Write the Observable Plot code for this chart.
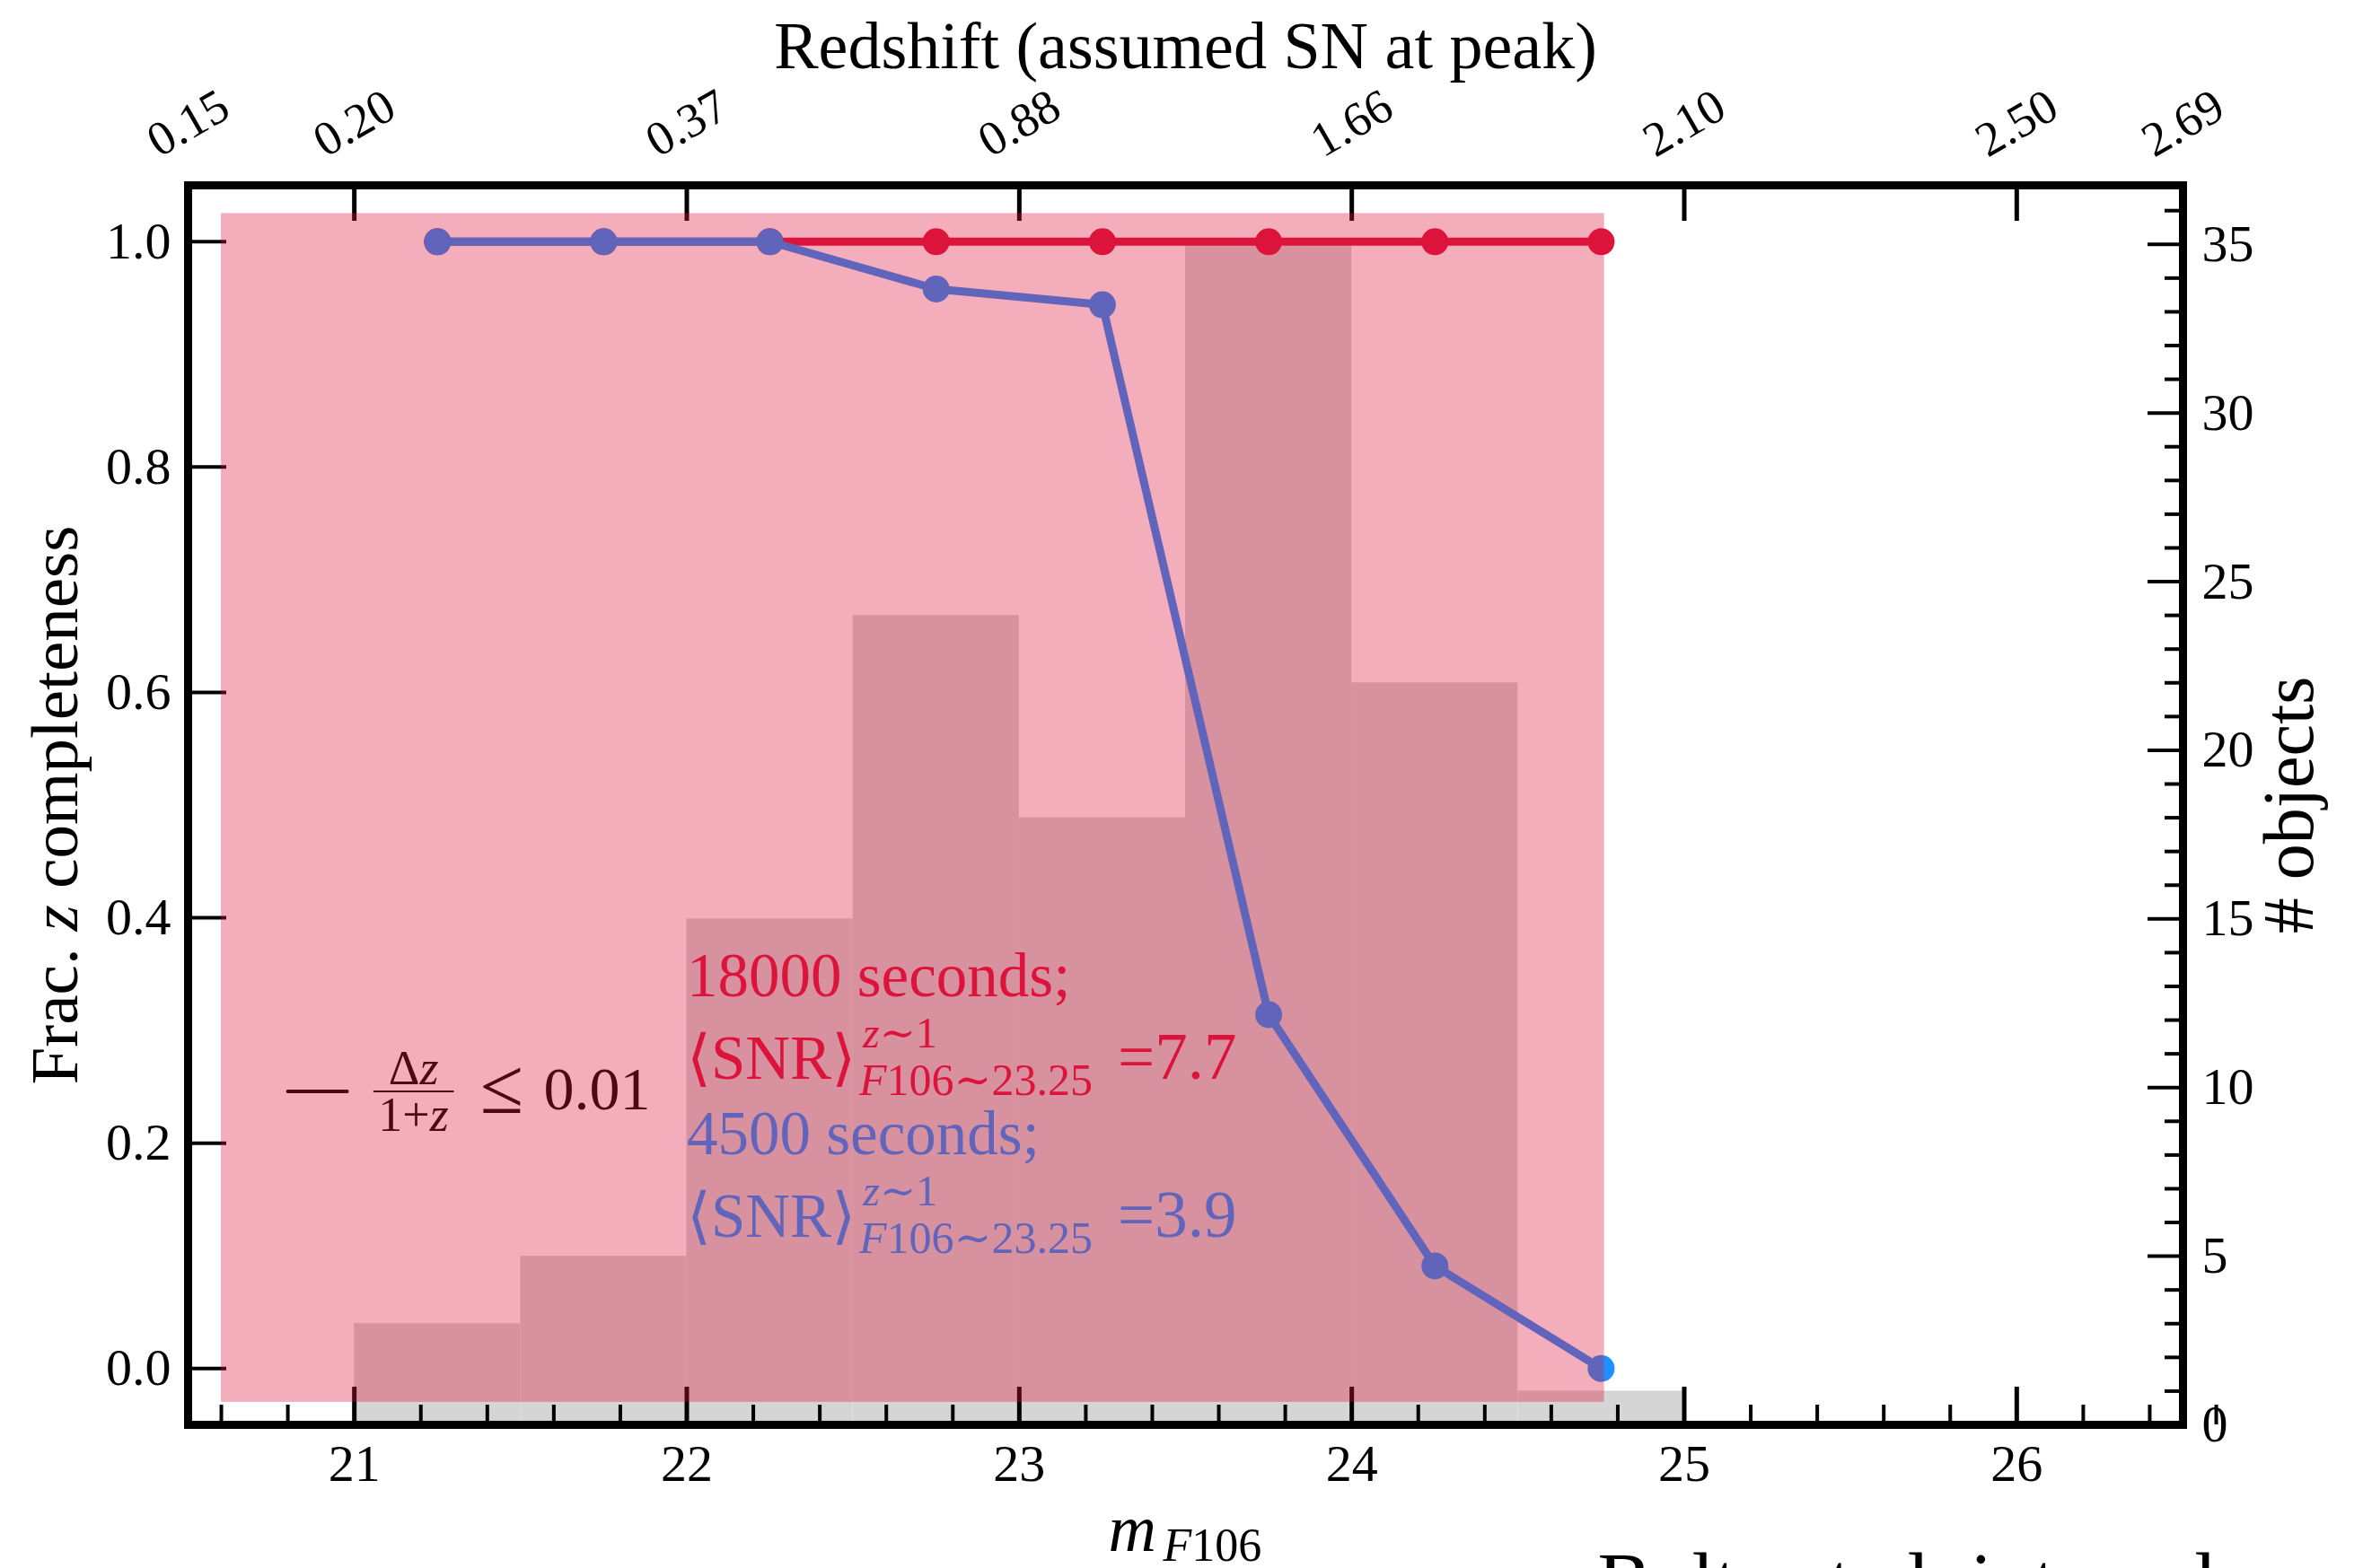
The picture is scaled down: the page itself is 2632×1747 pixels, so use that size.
<!DOCTYPE html>
<html><head><meta charset="utf-8">
<script src="https://cdn.jsdelivr.net/npm/d3@7"></script>
<script src="https://cdn.jsdelivr.net/npm/@observablehq/plot@0.6"></script>
<style>html,body{margin:0;padding:0;background:#fff;overflow:hidden}svg{display:block}</style>
</head><body><div id="chart"></div>
<script>
// ---------- data ----------
const magCenters = [21.25, 21.75, 22.25, 22.75, 23.25, 23.75, 24.25, 24.75];
const frac18000  = [1, 1, 1, 1, 1, 1, 1, 1];
const frac4500   = [1, 1, 1, 0.958, 0.944, 0.314, 0.091, 0];
const binEdges   = [21, 21.5, 22, 22.5, 23, 23.5, 24, 24.5, 25];
const binCounts  = [3, 5, 15, 24, 18, 35, 22, 1];
const magTicks   = [21, 22, 23, 24, 25, 26];
const fracTicks  = [0, 0.2, 0.4, 0.6, 0.8, 1.0];
const countTicks = [0, 5, 10, 15, 20, 25, 30, 35];
const redshiftTickPos    = [20.5, 21, 22, 23, 24, 25, 26, 26.5];
const redshiftTickLabels = ["0.15", "0.20", "0.37", "0.88", "1.66", "2.10", "2.50", "2.69"];
const exposureLabels = ["18000 seconds;", "4500 seconds;"];
const snrValues      = ["=7.7", "=3.9"];
const shadeBox = [{x1: 20.6, x2: 24.76, y1: -0.03, y2: 1.025}];

// ---------- scales / layout ----------
const magDomain = [20.5, 26.5];
const fracDomain = [-0.05, 1.05];
const countDomain = [0, 36.75];
const c2y = c => fracDomain[0] + (c - countDomain[0]) / (countDomain[1] - countDomain[0]) * (fracDomain[1] - fracDomain[0]);

const W = 2632, H = 1747;
const M = {left: 209, right: 201, top: 206, bottom: 160};
const innerW = W - M.left - M.right, innerH = H - M.top - M.bottom;
const FONT = "'Liberation Serif', 'DejaVu Serif', serif";
const RED = "crimson", BLUE = "dodgerblue";

const layout = {annotX: 22.0, expY: [0.33, 0.19], snrY: [0.257, 0.117], legend: {x: 20.8, y: 0.246}};

const redData  = magCenters.map((m, i) => ({m, f: frac18000[i]}));
const blueData = magCenters.map((m, i) => ({m, f: frac4500[i]}));
const bins = binCounts.map((c, i) => ({x1: binEdges[i], x2: binEdges[i + 1], count: c}));
const minorMag = d3.range(Math.round(magDomain[0] * 5), Math.round(magDomain[1] * 5) + 1).map(k => k / 5).filter(v => Math.abs(v - Math.round(v)) > 1e-9);
const minorCount = d3.range(0, 37).filter(c => c % 5 !== 0);

const lineShape = {draw(ctx, l) { ctx.moveTo(0, 0); ctx.lineTo(0, -l); }};

function txt(str, x, y, opts) {
  return Plot.text([str], {x: () => x, y: () => y, text: d => d, lineAnchor: "bottom", textAnchor: "start", fontFamily: FONT, ...opts});
}
function ftxt(str, opts) {
  return Plot.text([str], {text: d => d, fontFamily: FONT, ...opts});
}

const annotMarks = [];
[0, 1].forEach(i => {
  const color = i === 0 ? RED : BLUE;
  annotMarks.push(txt(exposureLabels[i], layout.annotX, layout.expY[i], {fill: color, fontSize: 69}));
  annotMarks.push(txt("⟨SNR⟩", layout.annotX, layout.snrY[i], {fill: color, fontSize: 69}));
  annotMarks.push(txt("z∼1", layout.annotX, layout.snrY[i], {fill: color, fontSize: 48, dx: 196, dy: -35}));
  annotMarks.push(txt("F106∼23.25", layout.annotX, layout.snrY[i], {fill: color, fontSize: 50, dx: 192, dy: 18}));
  annotMarks.push(txt(snrValues[i], layout.annotX, layout.snrY[i], {fill: color, fontSize: 73, dx: 480}));
});

const L = layout.legend;
const legendMarks = [
  Plot.vector([L], {x: "x", y: "y", length: 66, rotate: 90, anchor: "start", shape: lineShape, stroke: "black", strokeWidth: 4}),
  Plot.vector([L], {x: "x", y: "y", length: 88, rotate: 90, anchor: "start", shape: lineShape, stroke: "black", strokeWidth: 2, dx: 96}),
  txt("Δz", L.x, L.y, {textAnchor: "middle", fontSize: 54, dx: 140, dy: -8}),
  txt("1+z", L.x, L.y, {textAnchor: "middle", fontSize: 54, dx: 140, dy: 44}),
  txt("≤", L.x, L.y, {textAnchor: "middle", fontSize: 88, dx: 238, dy: 24}),
  txt("0.01", L.x, L.y, {fontSize: 68, dx: 285, dy: 20})
];

const chart = Plot.plot({
  width: W, height: H,
  marginLeft: M.left, marginRight: M.right, marginTop: M.top, marginBottom: M.bottom,
  style: {fontFamily: FONT, background: "white"},
  x: {domain: magDomain},
  y: {domain: fracDomain},
  marks: [
    // histogram (# objects, right axis)
    Plot.rect(bins, {x1: "x1", x2: "x2", y1: () => c2y(0), y2: d => c2y(d.count), fill: "#d5d5d5"}),
    // ticks (inward)
    Plot.tickX(magTicks, {x: d => d, insetTop: innerH - 42, stroke: "black", strokeWidth: 5}),
    Plot.tickX(minorMag, {x: d => d, insetTop: innerH - 22, stroke: "black", strokeWidth: 4}),
    Plot.tickX(magTicks, {x: d => d, insetBottom: innerH - 40, stroke: "black", strokeWidth: 5}),
    Plot.tickY(fracTicks, {y: d => d, insetRight: innerW - 43, stroke: "black", strokeWidth: 4}),
    Plot.tickY(countTicks, {y: c2y, insetLeft: innerW - 39, stroke: "black", strokeWidth: 4}),
    Plot.tickY(minorCount, {y: c2y, insetLeft: innerW - 20, stroke: "black", strokeWidth: 4}),
    // legend + annotations
    ...legendMarks,
    ...annotMarks,
    // completeness curves
    Plot.line(redData, {x: "m", y: "f", stroke: RED, strokeWidth: 9}),
    Plot.dot(redData, {x: "m", y: "f", r: 15, fill: RED}),
    Plot.line(blueData, {x: "m", y: "f", stroke: BLUE, strokeWidth: 9}),
    Plot.dot(blueData, {x: "m", y: "f", r: 15, fill: BLUE}),
    // translucent shaded box
    Plot.rect(shadeBox, {x1: "x1", x2: "x2", y1: "y1", y2: "y2", fill: RED, fillOpacity: 0.35}),
    // frame
    Plot.frame({stroke: "black", strokeWidth: 9}),
    // axes labels
    Plot.axisX({ticks: magTicks, tickSize: 0, tickPadding: 21, tickFormat: d => String(d), fontSize: 58, fontFamily: FONT, label: null, fill: "black"}),
    Plot.axisY({ticks: fracTicks, tickSize: 0, tickPadding: 19, tickFormat: ".1f", fontSize: 58, fontFamily: FONT, label: null, fill: "black"}),
    Plot.text(countTicks, {y: c2y, text: d => String(d), frameAnchor: "right", textAnchor: "start", dx: 21, fontSize: 58, fontFamily: FONT}),
    Plot.text(redshiftTickPos, {x: d => d, text: (d, i) => redshiftTickLabels[i], frameAnchor: "top", rotate: -30, dy: -69, textAnchor: "middle", lineAnchor: "middle", fontSize: 54, fontFamily: FONT}),
    ftxt("Redshift (assumed SN at peak)", {frameAnchor: "top", lineAnchor: "bottom", textAnchor: "middle", dy: -131, fontSize: 74}),
    ftxt("Frac. z completeness", {frameAnchor: "left", lineAnchor: "bottom", textAnchor: "middle", rotate: -90, dx: -124, fontSize: 75}),
    ftxt("# objects", {frameAnchor: "right", lineAnchor: "bottom", textAnchor: "middle", rotate: -90, dx: 144, fontSize: 80}),
    ftxt("m", {frameAnchor: "bottom", lineAnchor: "bottom", textAnchor: "start", dx: -86, dy: 140, fontSize: 74, fontStyle: "italic"}),
    ftxt("F106", {frameAnchor: "bottom", lineAnchor: "bottom", textAnchor: "start", dx: -25, dy: 151, fontSize: 52}),
    ftxt("Boltz et al. internal", {frameAnchor: "bottom-right", lineAnchor: "bottom", textAnchor: "start", dx: -652, dy: 205, fontSize: 90})
  ]
});

// rich text: italic math variables as tspans
const richMap = {
  "Frac. z completeness": [["Frac. ", 0], ["z", 1], [" completeness", 0]],
  "z∼1": [["z", 1], ["∼1", 0]],
  "F106∼23.25": [["F", 1], ["106∼23.25", 0]],
  "F106": [["F", 1], ["106", 0]],
  "Δz": [["Δ", 0], ["z", 1]],
  "1+z": [["1+", 0], ["z", 1]]
};
chart.querySelectorAll("text").forEach(t => {
  const parts = richMap[t.textContent];
  if (!parts) return;
  while (t.firstChild) t.removeChild(t.firstChild);
  parts.forEach(([s, it]) => {
    const ts = document.createElementNS("http://www.w3.org/2000/svg", "tspan");
    ts.textContent = s;
    if (it) ts.setAttribute("font-style", "italic");
    t.appendChild(ts);
  });
});

document.getElementById("chart").appendChild(chart);
</script>
</body></html>
